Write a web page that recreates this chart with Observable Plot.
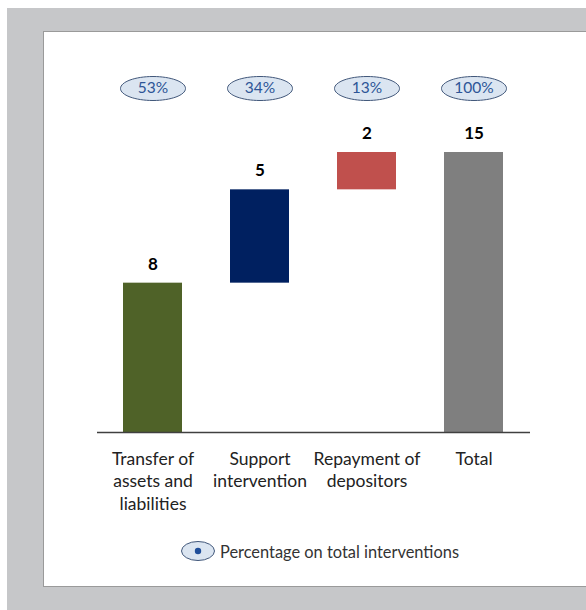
<!DOCTYPE html>
<html><head><meta charset="utf-8">
<script src="https://cdn.jsdelivr.net/npm/d3@7"></script>
<script src="https://cdn.jsdelivr.net/npm/@observablehq/plot@0.6"></script>
<style>
html,body{margin:0;padding:0;background:#fff;width:586px;height:610px;overflow:hidden;font-family:Lato,"Open Sans",sans-serif;}
#bg{position:absolute;left:7px;top:8px;width:579px;height:602px;background:#c6c7c9;}
#panel{position:absolute;left:43px;top:31px;width:560px;height:554px;background:#fff;border:1px solid #9a9a9a;}
#chart{position:absolute;left:0;top:0;}
#legend{position:absolute;left:180px;top:540px;display:flex;align-items:center;font-size:16.4px;color:#333;}
#legend svg{margin-right:4px;}
</style></head>
<body>
<div id="bg"></div><div id="panel"></div>
<div id="chart"></div>
<div id="legend"><svg width="36" height="22"><ellipse cx="18" cy="11" rx="16.5" ry="9.5" fill="#dbe5f1" stroke="#41577a" stroke-width="1"/><circle cx="18" cy="11" r="3.2" fill="#1f4e9a"/></svg><span>Percentage on total interventions</span></div>
<script>
const categories = ["Transfer", "Support", "Repayment", "Total"];
const tickLabels = ["Transfer of\nassets and\nliabilities", "Support\nintervention", "Repayment of\ndepositors", "Total"];
const values = [8, 5, 2, 15];
const percentages = ["53%", "34%", "13%", "100%"];
const isTotal = [false, false, false, true];
const colors = ["#4f6228", "#002060", "#c0504d", "#7f7f7f"];

let run = 0;
const data = categories.map((c, i) => {
  let y1, y2;
  if (isTotal[i]) { y1 = 0; y2 = values[i]; }
  else { y1 = run; y2 = run + values[i]; run = y2; }
  return {cat: c, label: tickLabels[i], value: values[i], pct: percentages[i], y1, y2, color: colors[i]};
});

const ellipse = {
  draw(ctx) {
    const rx = 32.5, ry = 12, k = 0.5523;
    ctx.moveTo(rx, 0);
    ctx.bezierCurveTo(rx, ry * k, rx * k, ry, 0, ry);
    ctx.bezierCurveTo(-rx * k, ry, -rx, ry * k, -rx, 0);
    ctx.bezierCurveTo(-rx, -ry * k, -rx * k, -ry, 0, -ry);
    ctx.bezierCurveTo(rx * k, -ry, rx, -ry * k, rx, 0);
    ctx.closePath();
  }
};

const chart = Plot.plot({
  width: 586, height: 530,
  marginTop: 152, marginBottom: 98, marginLeft: 97, marginRight: 56,
  style: {background: "transparent", fontFamily: "Lato, 'Open Sans', sans-serif"},
  x: {domain: categories, paddingInner: 0.444, paddingOuter: 0.232, axis: null},
  y: {domain: [0, 15], axis: null},
  marks: [
    Plot.barY(data, {x: "cat", y1: "y1", y2: "y2", fill: "color"}),
    Plot.ruleY([0], {stroke: "#404040", strokeWidth: 1.3}),
    Plot.text(data, {x: "cat", y: "y2", text: d => String(d.value), dy: -19, fontSize: 17, fontWeight: "bold", fill: "#000"}),
    Plot.dot(data, {x: "cat", frameAnchor: "top", dy: -64, symbol: ellipse, r: 5, fill: "#dbe5f1", stroke: "#41577a", strokeWidth: 1}),
    Plot.text(data, {x: "cat", frameAnchor: "top", lineAnchor: "middle", dy: -64, text: "pct", fontSize: 15.5, fill: "#2e5597"}),
    Plot.text(data, {x: "cat", frameAnchor: "bottom", dy: 16, lineAnchor: "top", lineHeight: 1.3, text: "label", fontSize: 17.5, fill: "#222"})
  ]
});
document.getElementById("chart").appendChild(chart);
</script>
</body></html>
